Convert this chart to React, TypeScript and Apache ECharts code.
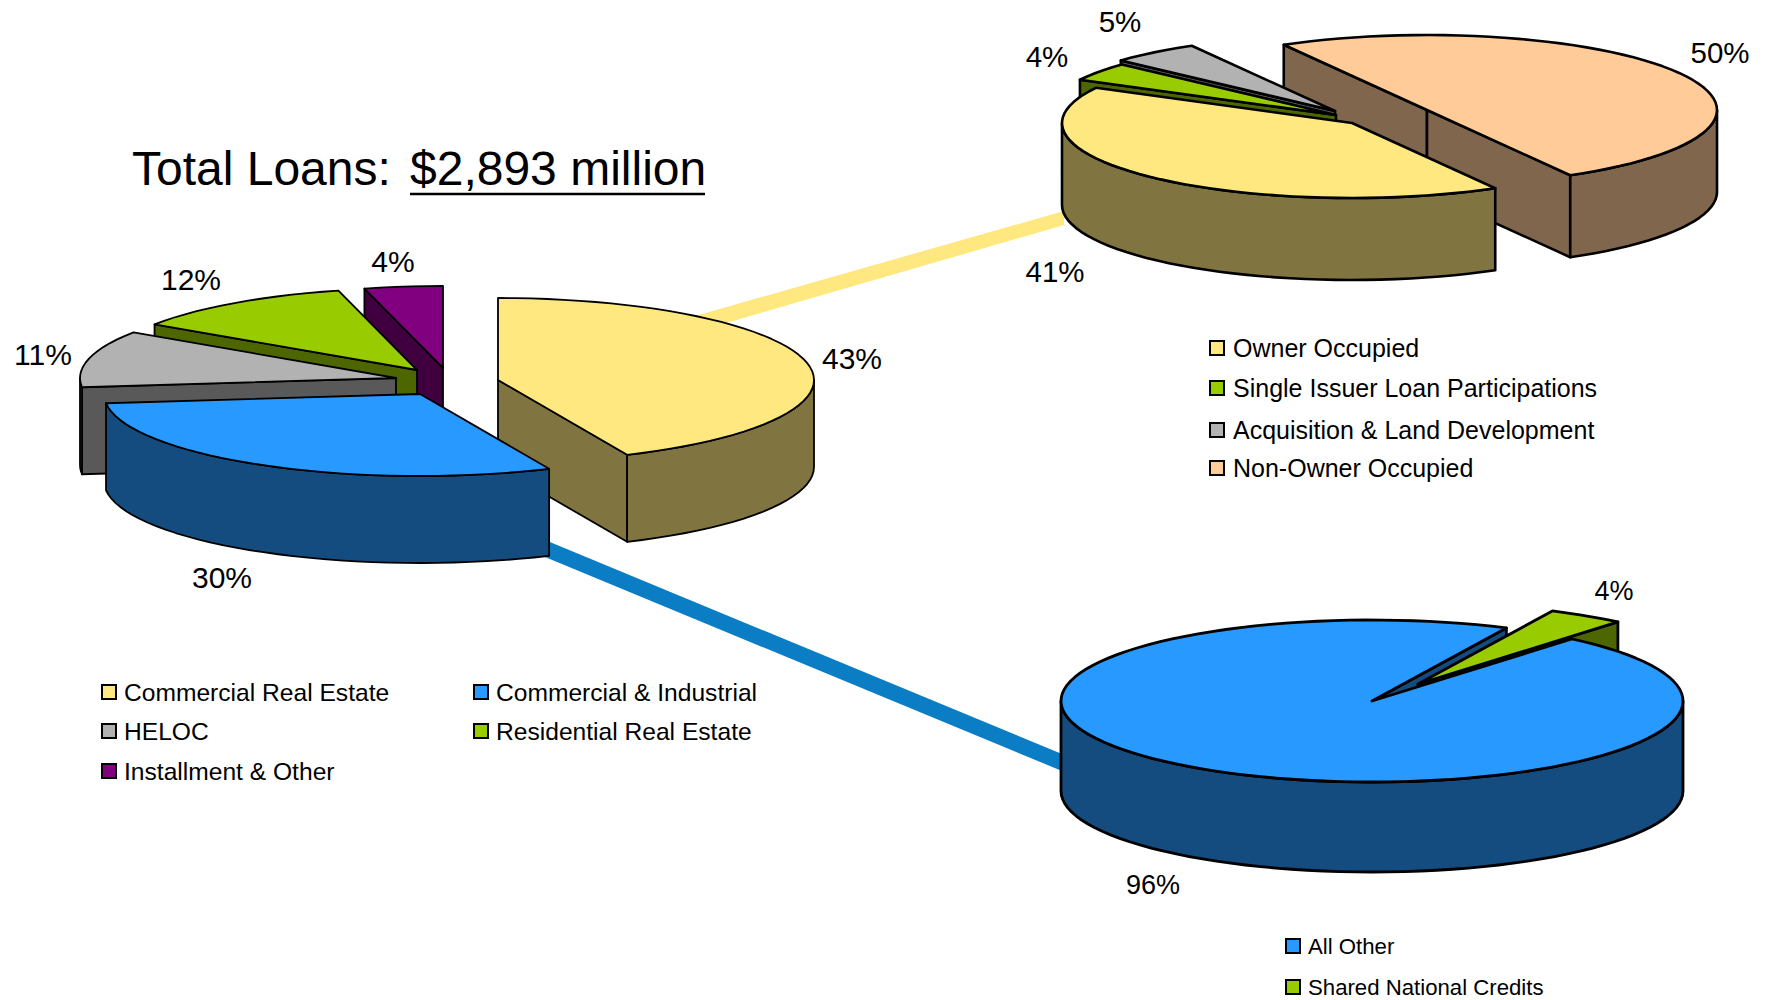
import React, { useEffect, useRef } from "react";
import * as echarts from "echarts";

const FONT = '"Liberation Sans", Arial, sans-serif';

const totalCategories = ["Commercial Real Estate", "Commercial & Industrial", "HELOC", "Residential Real Estate", "Installment & Other"];
const totalShares = [43.3, 29.9, 11.2, 11.6, 4];
const creCategories = ["Owner Occupied", "Single Issuer Loan Participations", "Acquisition & Land Development", "Non-Owner Occupied"];
const creShares = [41, 4, 5, 50];
const ciCategories = ["All Other", "Shared National Credits"];
const ciShares = [96, 4];

const YELLOW = ["#FFE880", "#807440"];
const BLUE = ["#2899FF", "#144C80"];
const GRAY = ["#B2B2B2", "#595959"];
const GREEN = ["#99CC00", "#4D6600"];
const PURPLE = ["#800080", "#400040"];
const PEACH = ["#FFCC99", "#80664D"];

const PIES = [
  {
    values: totalShares, colors: [YELLOW, BLUE, GRAY, GREEN, PURPLE],
    cx: 447, cy: 382, rx: 316, ry: 82, depth: 87, start: 0, line: 1.8, labelSize: 30,
    offsets: [[51, -2], [-27, 12], [-51, -4], [-30, -12], [-4, -14]],
    labels: [[852, 358], [222, 577], [43, 354], [191, 279], [393, 261]],
    // [slice, part]: part 0 = sides and top, 1 = cut faces only, 2 = wall and top only
    order: [[0, 0], [4, 0], [3, 0], [2, 0], [1, 0]],
  },
  {
    values: creShares, colors: [YELLOW, GREEN, GRAY, PEACH],
    cx: 1385, cy: 116, rx: 290, ry: 75, depth: 82, start: 150.4, line: 2.6, labelSize: 29.5,
    offsets: [[-33, 7], [-49, -1], [-50, -5], [42, -6]],
    labels: [[1055, 271], [1047, 56], [1120, 21], [1720, 52]],
    order: [[3, 0], [2, 0], [1, 0], [0, 0]],
  },
  {
    values: ciShares, colors: [BLUE, GREEN],
    cx: 1372, cy: 701, rx: 311, ry: 81, depth: 90, start: 40, line: 2.8, labelSize: 27,
    offsets: [[0, 0], [46, -17]],
    labels: [[1153, 885], [1614, 591]],
    order: [[0, 1], [1, 0], [0, 2]],
  },
];

const LEGENDS = [
  { names: totalCategories, colors: [YELLOW, BLUE, GRAY, GREEN, PURPLE],
    pos: [[102, 692], [474, 692], [102, 731], [474, 731], [102, 771]], size: 24.6, gap: 22 },
  { names: creCategories, colors: [YELLOW, GREEN, GRAY, PEACH],
    pos: [[1210, 348], [1210, 388], [1210, 430], [1210, 468]], size: 25, gap: 23 },
  { names: ciCategories, colors: [BLUE, GREEN],
    pos: [[1286, 946], [1286, 987]], size: 22.2, gap: 22 },
];

const rimPoint = (ax: number, ay: number, p: any, deg: number): number[] => {
  const a = (deg * Math.PI) / 180;
  return [ax + p.rx * Math.sin(a), ay - p.ry * Math.cos(a)];
};

const arcAngles = (from: number, to: number): number[] => {
  const n = Math.max(2, Math.ceil((to - from) / 3));
  const out: number[] = [];
  for (let i = 0; i <= n; i++) out.push(from + ((to - from) * i) / n);
  return out;
};

function sliceShapes(p: any, s: number, part: number) {
  const total = p.values.reduce((a: number, b: number) => a + b, 0);
  let from = p.start;
  for (let i = 0; i < s; i++) from += (p.values[i] / total) * 360;
  const to = from + (p.values[s] / total) * 360;
  const ax = p.cx + p.offsets[s][0];
  const ay = p.cy + p.offsets[s][1];
  const [top, side] = p.colors[s];
  const stroke = { stroke: "#000", lineWidth: p.line, lineJoin: "round" };
  const out: any[] = [];

  const cut = (deg: number, sign: number) => {
    const r = rimPoint(ax, ay, p, deg);
    const n = rimPoint(ax, ay, p, deg + sign);
    const dx = r[0] - ax, dy = r[1] - ay;
    const inner = dx * (n[1] - ay) - dy * (n[0] - ax);
    return {
      visible: dx * inner < 0,
      el: {
        type: "polygon",
        shape: { points: [[ax, ay], r, [r[0], r[1] + p.depth], [ax, ay + p.depth]] },
        style: { fill: side, ...stroke },
      },
    };
  };
  if (part !== 2) {
    const cuts = [cut(from, 1), cut(to, -1)];
    cuts.filter((c) => c.visible).forEach((c) => out.push(c.el));
  }
  if (part !== 1) {
    for (const k of [0, 360]) {
      const a = Math.max(from, 90 + k);
      const b = Math.min(to, 270 + k);
      if (b > a) {
        const upper = arcAngles(a, b).map((d) => rimPoint(ax, ay, p, d));
        const lower = upper.map((q) => [q[0], q[1] + p.depth]).reverse();
        out.push({ type: "polygon", shape: { points: [...upper, ...lower] }, style: { fill: side, ...stroke } });
      }
    }
    const rim = arcAngles(from, to).map((d) => rimPoint(ax, ay, p, d));
    out.push({ type: "polygon", shape: { points: [[ax, ay], ...rim] }, style: { fill: top, ...stroke } });
  }
  return out;
}

// Each row of the custom series is [pie, slice, part]; part 3 is the percentage label.
const rows: number[][] = [];
PIES.forEach((p, i) => {
  p.order.forEach(([s, part]) => rows.push([i, s, part]));
});
PIES.forEach((p, i) => {
  p.values.forEach((_, s) => rows.push([i, s, 3]));
});

function renderItem(_: any, api: any) {
  const p = PIES[api.value(0)];
  const s = api.value(1);
  const part = api.value(2);
  if (part === 3) {
    return {
      type: "text",
      style: {
        text: `${Math.round(p.values[s])}%`, x: p.labels[s][0], y: p.labels[s][1],
        fill: "#000", fontSize: p.labelSize, fontFamily: FONT,
        textAlign: "center", textVerticalAlign: "middle",
      },
    };
  }
  return { type: "group", children: sliceShapes(p, s, part) };
}

function legendElements() {
  const out: any[] = [];
  LEGENDS.forEach((l) => {
    l.names.forEach((name, i) => {
      const [x, y] = l.pos[i];
      out.push({
        type: "rect", shape: { x, y: y - 7, width: 14, height: 14 },
        style: { fill: l.colors[i][0], stroke: "#000", lineWidth: 2 },
      });
      out.push({
        type: "text",
        style: { text: name, x: x + l.gap, y, fill: "#000", fontSize: l.size, fontFamily: FONT, textAlign: "left", textVerticalAlign: "middle" },
      });
    });
  });
  return out;
}

export default function App() {
  const ref = useRef<HTMLDivElement>(null);
  useEffect(() => {
    document.body.style.margin = "0";
    const chart = echarts.init(ref.current!, null, { renderer: "svg" });
    chart.setOption({
      animation: false,
      backgroundColor: "#fff",
      graphic: [
        { type: "polygon", shape: { points: [[695, 316], [1064, 211], [1064, 225], [695, 332]] }, style: { fill: "#FFE880" } },
        { type: "polygon", shape: { points: [[545, 540], [1062, 754], [1062, 771], [545, 557]] }, style: { fill: "#0A7DC5" } },
        { type: "text", style: { text: "Total Loans: ", x: 132, y: 168, fill: "#000", fontSize: 48, fontFamily: FONT, textAlign: "left", textVerticalAlign: "middle" } },
        { type: "text", style: { text: "$2,893 million", x: 410, y: 168, fill: "#000", fontSize: 48, fontFamily: FONT, textAlign: "left", textVerticalAlign: "middle" } },
        { type: "line", shape: { x1: 410, y1: 194, x2: 705, y2: 194 }, style: { stroke: "#000", lineWidth: 2.5 } },
        ...legendElements(),
      ],
      series: [
        { type: "custom", coordinateSystem: "none", silent: true, clip: false, renderItem, data: rows },
      ],
    });
    return () => chart.dispose();
  }, []);
  return <div ref={ref} style={{ position: "absolute", left: 0, top: 0, width: 1765, height: 1000 }} />;
}
